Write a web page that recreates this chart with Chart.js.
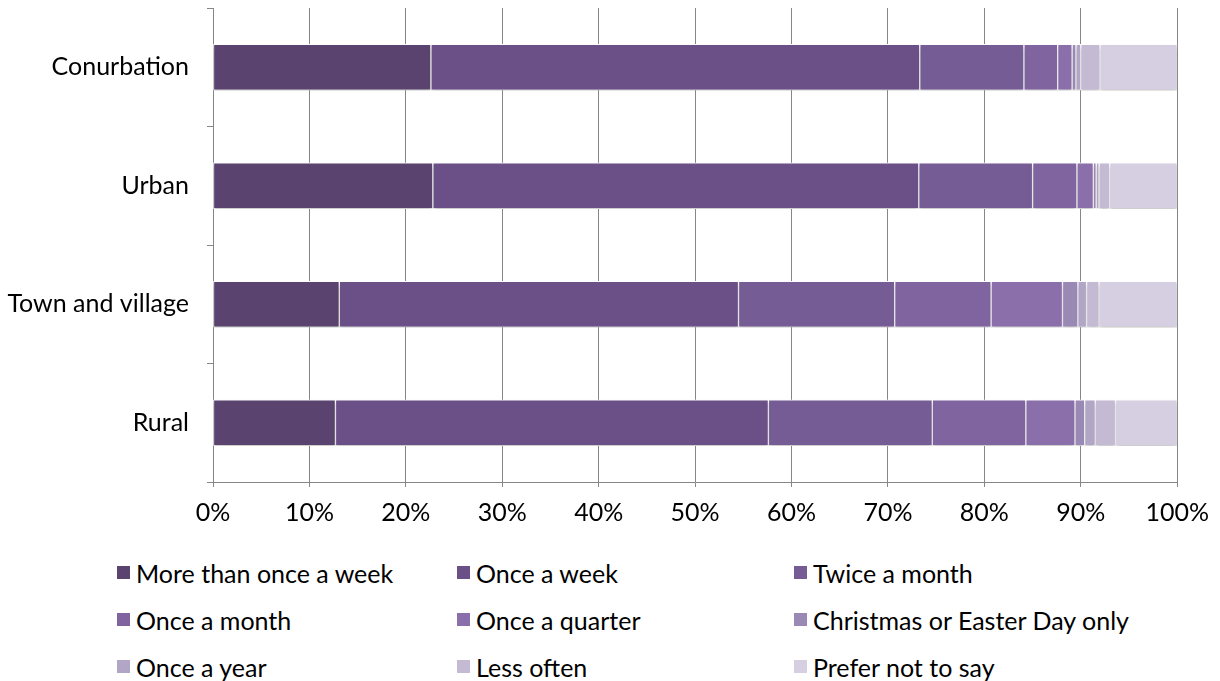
<!DOCTYPE html>
<html>
<head>
<meta charset="utf-8">
<script src="https://cdn.jsdelivr.net/npm/chart.js@4.4.1/dist/chart.umd.min.js"></script>
<style>
  body { margin: 0; background: #fff; font-family: Lato, sans-serif; }
  #wrap { position: relative; width: 1220px; height: 542px; }
  #legend {
    position: absolute; left: 117px; top: 549px;
    display: grid; grid-template-columns: 340px 337px 420px;
    grid-auto-rows: 47px; align-items: center;
    font-size: 25px; color: #000;
  }
  .item { display: flex; align-items: center; white-space: nowrap; }
  .box { flex: 0 0 13px; width: 13px; height: 13px; margin-right: 6px; }
</style>
</head>
<body>
<div id="wrap"><canvas id="chart" width="1220" height="542"></canvas></div>
<div id="legend"></div>
<script>
// === Data ===
const categories = ["Conurbation", "Urban", "Town and village", "Rural"];
const seriesNames = [
  "More than once a week", "Once a week", "Twice a month",
  "Once a month", "Once a quarter", "Christmas or Easter Day only",
  "Once a year", "Less often", "Prefer not to say"
];
// percentages per category, one array per series (Conurbation, Urban, Town and village, Rural)
const moreThanWeekly = [22.6, 22.8, 13.1, 12.7];
const onceAWeek      = [50.7, 50.4, 41.4, 44.9];
const twiceAMonth    = [10.8, 11.8, 16.2, 17.0];
const onceAMonth     = [3.5, 4.6, 10.0, 9.7];
const onceAQuarter   = [1.5, 1.7, 7.4, 5.1];
const christmasEaster = [0.4, 0.3, 1.6, 1.0];
const onceAYear      = [0.5, 0.3, 0.9, 1.1];
const lessOften      = [2.0, 1.1, 1.3, 2.1];
const preferNotToSay = [8.0, 7.0, 8.1, 6.4];
const tickLabels = [0, 10, 20, 30, 40, 50, 60, 70, 80, 90, 100];

const seriesValues = [moreThanWeekly, onceAWeek, twiceAMonth, onceAMonth, onceAQuarter,
  christmasEaster, onceAYear, lessOften, preferNotToSay];
const colors = ["#5a446f", "#6b5088", "#755c95", "#8064a0", "#8a6fab",
  "#9b89b5", "#b2a6c7", "#c4bad4", "#d5cfe1"];

const FONT = "Lato, sans-serif";

// soft shadow under bars
const shadowPlugin = {
  id: "barShadow",
  beforeDatasetsDraw(chart) {
    const c = chart.ctx;
    c.save();
    c.shadowColor = "rgba(0,0,0,0.22)";
    c.shadowBlur = 4;
    c.shadowOffsetY = 3;
  },
  afterDatasetsDraw(chart) {
    chart.ctx.restore();
  }
};

const chart = new Chart(document.getElementById("chart"), {
  type: "bar",
  data: {
    labels: categories,
    datasets: seriesNames.map((name, i) => ({
      label: name,
      data: seriesValues[i],
      backgroundColor: colors[i],
      borderColor: "#ffffff",
      borderWidth: 1,
      borderSkipped: false,
      barThickness: 46
    }))
  },
  options: {
    indexAxis: "y",
    responsive: false,
    animation: false,
    layout: { padding: { top: 8, right: 42, left: 0, bottom: 0 } },
    plugins: { legend: { display: false }, tooltip: { enabled: false } },
    scales: {
      x: {
        stacked: true,
        min: 0, max: 100,
        afterBuildTicks: scale => { scale.ticks = tickLabels.map(v => ({ value: v })); },
        afterFit: scale => { scale.height = 60; },
        ticks: {
          callback: v => v + "%",
          color: "#000",
          font: { family: FONT, size: 25 },
          padding: 11,
          maxRotation: 0
        },
        grid: { color: "#868686", lineWidth: 1, tickLength: 5 },
        border: { color: "#868686" }
      },
      y: {
        stacked: true,
        afterFit: scale => {
          scale.width = 213;
          scale.paddingTop = 0;
          scale.paddingBottom = 0;
        },
        ticks: {
          color: "#000",
          font: { family: FONT, size: 25 },
          padding: 18
        },
        grid: { offset: true, drawOnChartArea: false, color: "#868686", tickLength: 6 },
        border: { color: "#868686" }
      }
    }
  },
  plugins: [shadowPlugin]
});

// === HTML legend built from the datasets ===
const legend = document.getElementById("legend");
chart.data.datasets.forEach(ds => {
  const item = document.createElement("div");
  item.className = "item";
  item.innerHTML = `<span class="box" style="background:${ds.backgroundColor}"></span><span>${ds.label}</span>`;
  legend.appendChild(item);
});
</script>
</body>
</html>
